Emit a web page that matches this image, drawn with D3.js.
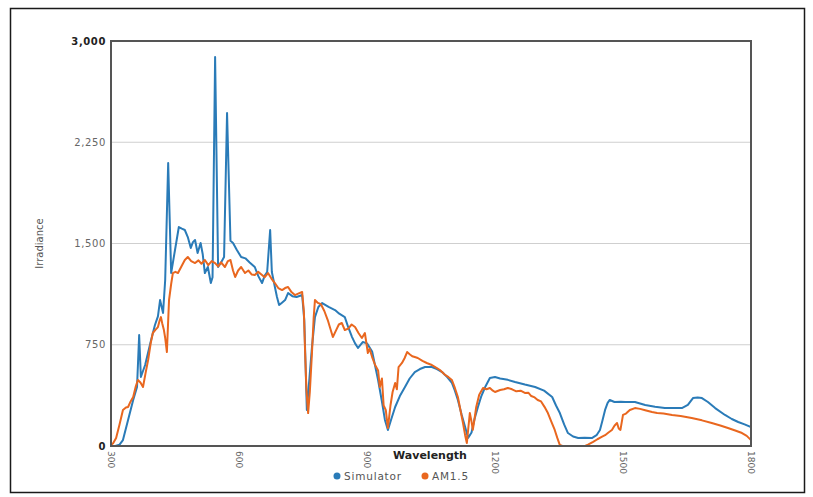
<!DOCTYPE html>
<html>
<head>
<meta charset="utf-8">
<script src="https://cdn.jsdelivr.net/npm/d3@7"></script>
<style>
  html, body { margin: 0; padding: 0; background: #fff; }
  svg { display: block; }
  text { font-family: "DejaVu Sans", Verdana, sans-serif; }
</style>
</head>
<body>
<svg id="chart" width="813" height="497"></svg>
<script>
// ---- Data ----
const xTicks = [300, 600, 900, 1200, 1500, 1800];
const yTicks = [0, 750, 1500, 2250, 3000];
const seriesNames = ["Simulator", "AM1.5"];

const simWavelength = [310,320,328,340,352,361,366,370,380,394,403,410,415,422,427,434,441,450,459,466,473,480,487,492,497,503,510,515,520,527,534,538,544,551,558,565,572,580,586,595,605,615,625,637,645,654,660,666,673,677,684,689,694,700,708,715,725,735,748,753,759,765,771,778,786,795,810,825,835,848,856,865,872,879,890,900,912,926,935,942,949,957,966,977,989,1000,1012,1024,1036,1052,1064,1076,1088,1099,1106,1113,1122,1130,1137,1145,1152,1160,1168,1177,1188,1200,1212,1230,1247,1270,1294,1315,1334,1343,1352,1362,1371,1383,1395,1410,1427,1438,1446,1452,1458,1464,1469,1480,1495,1505,1528,1552,1575,1598,1620,1638,1652,1664,1675,1685,1699,1716,1739,1755,1770,1785,1800];
const simIrradiance = [0,10,44,193,341,437,822,511,600,785,896,960,1081,985,1230,2096,1281,1452,1622,1610,1600,1548,1467,1510,1526,1430,1504,1420,1281,1326,1207,1250,2881,1326,1360,1400,2467,1520,1504,1452,1400,1390,1360,1326,1260,1207,1260,1289,1600,1289,1180,1104,1044,1060,1081,1133,1110,1104,1118,933,267,500,733,955,1030,1059,1030,1007,980,955,880,807,760,726,770,760,700,489,330,193,119,200,289,370,437,500,548,570,585,585,570,548,510,467,410,341,230,141,60,100,200,289,370,437,504,511,500,490,474,455,437,410,363,300,244,160,96,70,59,62,59,80,119,190,267,320,341,326,328,326,326,304,290,281,282,281,304,355,360,355,326,281,230,200,178,160,140];

const amWavelength = [300,305,312,320,328,335,340,346,352,358,363,369,375,381,387,393,398,404,410,414,417,420,424,427,431,436,441,445,451,457,465,473,480,488,497,505,512,520,528,536,544,551,558,567,574,580,586,591,598,605,614,622,630,637,645,654,660,668,676,684,692,701,708,715,723,731,740,748,752,755,758,762,766,771,775,778,785,792,800,808,814,820,828,834,841,848,856,864,872,880,888,895,902,906,912,919,926,930,935,939,944,949,955,960,966,970,974,982,988,994,1000,1006,1012,1019,1030,1040,1052,1062,1071,1082,1091,1099,1106,1113,1120,1125,1130,1134,1138,1141,1145,1148,1152,1156,1163,1172,1180,1188,1195,1200,1212,1221,1230,1240,1250,1260,1270,1278,1285,1293,1300,1308,1316,1324,1332,1340,1346,1352,1358,1400,1411,1418,1430,1440,1450,1458,1466,1474,1480,1486,1490,1494,1500,1507,1516,1528,1540,1552,1568,1580,1595,1615,1635,1661,1685,1708,1728,1746,1763,1779,1790,1800];
const amIrradiance = [7,20,59,160,267,285,289,330,363,440,489,470,437,540,637,760,837,860,881,930,955,910,859,800,696,1081,1200,1281,1290,1281,1330,1378,1400,1370,1355,1375,1350,1378,1340,1370,1355,1330,1360,1326,1370,1378,1300,1252,1300,1326,1281,1300,1270,1267,1290,1267,1250,1281,1240,1207,1170,1155,1170,1178,1140,1118,1130,1141,1000,689,420,244,400,689,950,1081,1060,1050,1000,933,870,807,860,900,911,859,870,900,881,837,800,837,689,720,659,600,560,437,500,300,267,133,300,400,467,420,585,615,650,696,680,665,659,652,630,615,600,580,563,530,510,489,430,363,250,170,80,22,150,244,180,119,200,289,380,430,420,430,410,400,415,420,430,420,405,410,393,395,370,360,341,330,290,244,180,119,60,7,0,0,0,10,30,50,67,80,100,119,150,170,130,119,230,240,267,281,275,265,252,245,240,230,222,207,190,170,152,133,115,96,75,44];

// ---- Layout ----
const svg = d3.select("#chart");
const plot = { left: 111, top: 41, right: 751, bottom: 446 };
const colors = { Simulator: "#2a7bb8", "AM1.5": "#e9671f" };

const x = d3.scaleLinear().domain([300, 1800]).range([plot.left, plot.right]);
const y = d3.scaleLinear().domain([0, 3000]).range([plot.bottom, plot.top]);

// outer frame
svg.append("rect")
  .attr("x", 10.5).attr("y", 8.5).attr("width", 794).attr("height", 484)
  .attr("fill", "none").attr("stroke", "#1a1a1a").attr("stroke-width", 1.5);

// gridlines
svg.append("g")
  .selectAll("line")
  .data(yTicks.filter(d => d > 0 && d < 3000))
  .join("line")
  .attr("x1", plot.left).attr("x2", plot.right)
  .attr("y1", d => y(d)).attr("y2", d => y(d))
  .attr("stroke", "#cfcfcf").attr("stroke-width", 1);

// lines
const line = d3.line().x(d => x(d[0])).y(d => y(d[1]));
const simData = simWavelength.map((w, i) => [w, simIrradiance[i]]);
const amData = amWavelength.map((w, i) => [w, amIrradiance[i]]);

svg.append("clipPath").attr("id", "clip").append("rect")
  .attr("x", plot.left).attr("y", plot.top - 2)
  .attr("width", plot.right - plot.left).attr("height", plot.bottom - plot.top + 2);

const gLines = svg.append("g").attr("clip-path", "url(#clip)");
gLines.append("path").datum(simData).attr("d", line)
  .attr("fill", "none").attr("stroke", colors.Simulator).attr("stroke-width", 2)
  .attr("stroke-linejoin", "round");
gLines.append("path").datum(amData).attr("d", line)
  .attr("fill", "none").attr("stroke", colors["AM1.5"]).attr("stroke-width", 2)
  .attr("stroke-linejoin", "round");

// plot border
svg.append("rect")
  .attr("x", plot.left).attr("y", plot.top)
  .attr("width", plot.right - plot.left).attr("height", plot.bottom - plot.top)
  .attr("fill", "none").attr("stroke", "#555").attr("stroke-width", 2);

// y axis labels
const fmt = d3.format(",");
svg.append("g")
  .selectAll("text")
  .data(yTicks)
  .join("text")
  .attr("x", plot.left - 5)
  .attr("y", d => y(d))
  .attr("dy", "0.35em")
  .attr("text-anchor", "end")
  .attr("font-size", 10)
  .attr("letter-spacing", 0.6)
  .attr("font-weight", d => (d === 0 || d === 3000) ? "bold" : "normal")
  .attr("fill", d => (d === 0 || d === 3000) ? "#222" : "#666")
  .text(d => fmt(d));

// x axis labels (rotated)
svg.append("g")
  .selectAll("text")
  .data(xTicks)
  .join("text")
  .attr("transform", d => `translate(${x(d)},${plot.bottom + 5}) rotate(90)`)
  .attr("dy", "0.35em")
  .attr("text-anchor", "start")
  .attr("font-size", 9)
  .attr("fill", "#666")
  .text(d => d);

// axis titles
svg.append("text")
  .attr("x", 430).attr("y", 459)
  .attr("text-anchor", "middle")
  .attr("font-size", 11).attr("font-weight", "bold").attr("fill", "#222")
  .text("Wavelength");

svg.append("text")
  .attr("transform", `translate(39,${(plot.top + plot.bottom) / 2}) rotate(-90)`)
  .attr("text-anchor", "middle")
  .attr("dy", "0.35em")
  .attr("font-size", 10).attr("fill", "#555")
  .text("Irradiance");

// legend
const legendPos = [{ name: seriesNames[0], cx: 337 }, { name: seriesNames[1], cx: 425 }];
const lg = svg.append("g");
legendPos.forEach(p => {
  lg.append("circle").attr("cx", p.cx).attr("cy", 476).attr("r", 3.5).attr("fill", colors[p.name]);
  lg.append("text").attr("x", p.cx + 7).attr("y", 480)
    .attr("font-size", 10.5).attr("letter-spacing", 0.8).attr("fill", "#555")
    .text(p.name);
});
</script>
</body>
</html>
